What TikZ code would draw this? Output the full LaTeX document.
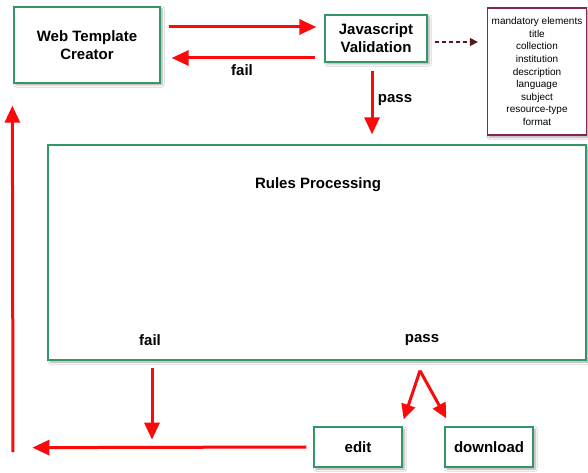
\documentclass[tikz,border=0pt]{standalone}
\usepackage{fontspec}
\setmainfont{Liberation Sans}
\usetikzlibrary{arrows.meta,calc,shadows.blur}

\definecolor{boxgreen}{RGB}{52,150,102}
\definecolor{boxplum}{RGB}{138,36,88}
\definecolor{flowred}{RGB}{250,10,10}
\definecolor{hintbrown}{RGB}{85,25,25}

\tikzset{
  stagebox/.style={draw=boxgreen, line width=1.3pt, fill=white, inner sep=0pt,
    align=center, font=\fontsize{15}{18}\selectfont\bfseries,
    blur shadow={shadow xshift=2pt, shadow yshift=-2pt, shadow blur steps=6, shadow opacity=35}},
  listbox/.style={draw=boxplum, line width=1.3pt, fill=white, inner sep=0pt,
    align=center, font=\fontsize{10}{12.6}\selectfont,
    blur shadow={shadow xshift=2pt, shadow yshift=-2pt, shadow blur steps=6, shadow opacity=35}},
  flowlabel/.style={font=\fontsize{15}{18}\selectfont\bfseries, inner sep=0pt},
  flow/.style={draw=flowred, line width=3pt, -{Triangle[width=15pt,length=17pt]}},
  branch/.style={flow, -{Triangle[width=14pt,length=15pt]}},
  hint/.style={draw=hintbrown, line width=1.3pt, dash pattern=on 4.5pt off 2.5pt,
    -{Triangle[width=8pt,length=8pt]}}
}

\begin{document}
\begin{tikzpicture}[x=1pt,y=-1pt]
  \useasboundingbox[fill=white] (0,0) rectangle (588,473);

  % stages of the template workflow
  \node[stagebox, minimum width=146, minimum height=76] (creator) at (87,45)
    {Web Template\\Creator};
  \node[stagebox, minimum width=102, minimum height=47] (validate) at (376,38.5)
    {Javascript\\Validation};
  \node[listbox, minimum width=99, minimum height=127] (fields) at (537,71.5)
    {mandatory elements\\title\\collection\\institution\\description\\language\\subject\\resource-type\\format};
  \node[stagebox, minimum width=538, minimum height=215] (rules) at (317,252.5) {};
  \node[flowlabel] (rulestitle) at (318,185) {Rules Processing};
  \node[flowlabel] (rulesfail) at (150,340) {fail};
  \node[flowlabel] (rulespass) at (422,340) {pass};
  \node[stagebox, minimum width=88, minimum height=40] (edit) at (358,447) {edit};
  \node[stagebox, minimum width=88, minimum height=40] (download) at (489,447) {download};

  \coordinate (loopfoot) at (13,452);

  % creator <-> validation
  \draw[flow] ($(creator.east)+(8,-18)$) -- ($(validate.west)+(-8,-11.5)$);
  \draw[flow] ($(validate.west)+(-9,19.5)$) -- ($(creator.east)+(11,13)$);
  \node[flowlabel] (jsfail) at (242,70) {fail};

  % validation checks the listed fields
  \draw[hint] ($(validate.east)+(7,3.5)$) -- ($(fields.west)+(-9,-29.5)$);

  % validation -> rules processing
  \draw[flow] ($(validate.south)+(-4,8)$) -- ($(rules.north)+(55,-10)$);
  \node[flowlabel] (jspass) at (395,100) {pass};

  % rules processing outcomes
  \draw[flow] ($(rules.south)+(-165,7)$) -- ($(rules.south)+(-165,79)$);
  \draw[branch] ($(rules.south)+(103,10)$) -- ($(edit.north east)+(1,-7)$);
  \draw[branch] ($(rules.south)+(103,10)$) -- ($(download.north west)+(2,-8)$);

  % back to the creator
  \draw[flow] ($(edit.west)+(-7,0)$) -- ($(creator.south west)+(19,364)$);
  \draw[flow] (loopfoot) -- ($(creator.south west)+(-1,22)$);
\end{tikzpicture}
\end{document}
